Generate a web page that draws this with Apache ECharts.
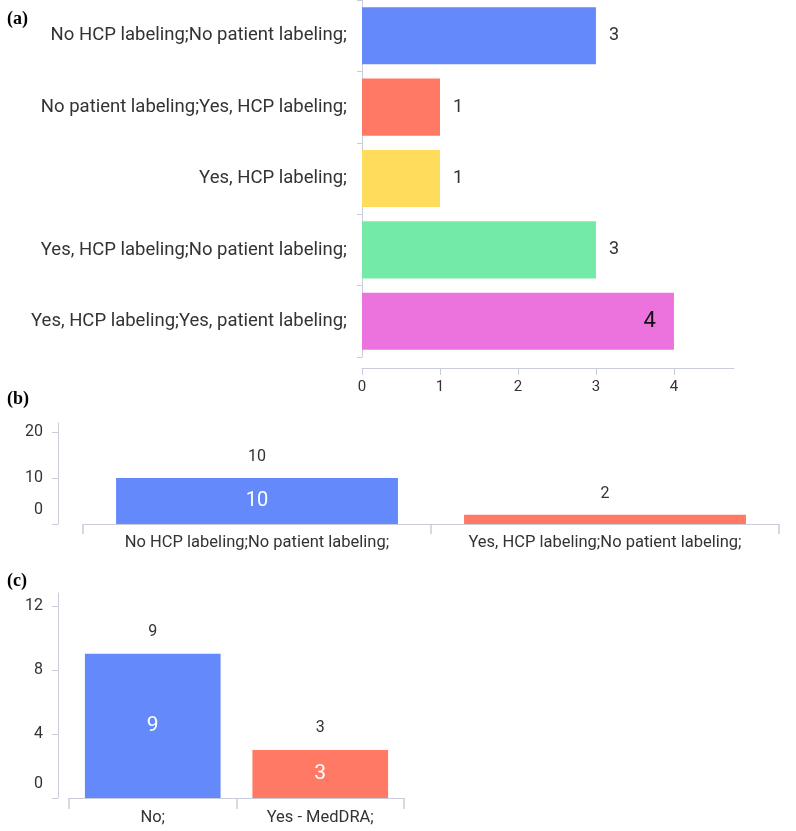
<!DOCTYPE html>
<html>
<head>
<meta charset="utf-8">
<script src="https://cdn.jsdelivr.net/npm/echarts@6/dist/echarts.min.js"></script>
<style>
  html, body { margin: 0; padding: 0; background: #fff; }
  #chart { width: 796px; height: 831px; }
</style>
</head>
<body>
<div id="chart"></div>
<script>
// panel (a): labelling of HCP / patient, horizontal bars
var catsA = [
    'No HCP labeling;No patient labeling;',
    'No patient labeling;Yes, HCP labeling;',
    'Yes, HCP labeling;',
    'Yes, HCP labeling;No patient labeling;',
    'Yes, HCP labeling;Yes, patient labeling;'
];
var valsA = [3, 1, 1, 3, 4];

// panel (b)
var catsB = ['No HCP labeling;No patient labeling;', 'Yes, HCP labeling;No patient labeling;'];
var valsB = [10, 2];

// panel (c)
var catsC = ['No;', 'Yes - MedDRA;'];
var valsC = [9, 3];

var palette = ['#6389fb', '#ff7965', '#ffdc5c', '#73eba7', '#ec72dd'];
var axisColor = '#c9cddb';
var textColor = '#333';
var font = 'Roboto';

var dom = document.getElementById('chart');
var myChart = echarts.init(dom);

// the zero tick label sits a bit above the axis in the original
function zeroUp(v) {
    return v === 0 ? '{z|0}' : String(v);
}
var zeroRich = { z: { padding: [0, 0, 28, 0], fontSize: 16, color: textColor, fontFamily: font } };

var maxA = Math.max.apply(null, valsA);

function panelTitle(text, top) {
    return {
        text: text, left: 2, top: top,
        textStyle: { fontFamily: 'Liberation Serif', fontWeight: 'bold', fontSize: 18, color: '#000' }
    };
}

// transparent copy of the bars, only there to carry the white inner label
function innerBars(vals) {
    return vals.map(function (v) {
        return { value: v, itemStyle: { color: 'transparent' } };
    });
}

var option = {
    animation: false,
    title: [panelTitle('(a)', 5), panelTitle('(b)', 385), panelTitle('(c)', 567)],
    grid: [
        { left: 362, right: 62, top: -7, height: 364 },
        { left: 83, right: 17, top: 423, height: 101 },
        { left: 69, right: 392, top: 593, height: 205 }
    ],
    xAxis: [
        {
            gridIndex: 0, type: 'value', min: 0, max: 4.77, interval: 1, offset: 11,
            splitLine: { show: false },
            axisLine: { show: true, lineStyle: { color: axisColor } },
            axisTick: { show: true, length: 7, lineStyle: { color: axisColor } },
            axisLabel: { showMaxLabel: false, margin: 12, fontSize: 15, color: textColor, fontFamily: font }
        },
        {
            gridIndex: 1, type: 'category', data: catsB,
            axisLine: { show: true, lineStyle: { color: axisColor } },
            axisTick: { show: true, length: 10, lineStyle: { color: axisColor, width: 1.5 } },
            axisLabel: { interval: 0, margin: 10, fontSize: 16.5, color: textColor, fontFamily: font }
        },
        {
            gridIndex: 2, type: 'category', data: catsC,
            axisLine: { show: true, lineStyle: { color: axisColor } },
            axisTick: { show: true, length: 11, lineStyle: { color: axisColor, width: 1.5 } },
            axisLabel: { interval: 0, margin: 11, fontSize: 16.5, color: textColor, fontFamily: font }
        }
    ],
    yAxis: [
        {
            gridIndex: 0, type: 'category', data: catsA, inverse: true,
            axisLine: { show: true, lineStyle: { color: axisColor } },
            axisTick: { show: true, length: 5, lineStyle: { color: axisColor } },
            axisLabel: { interval: 0, margin: 15, fontSize: 18.5, color: textColor, fontFamily: font }
        },
        {
            gridIndex: 1, type: 'value', min: 0, max: 22, interval: 10, offset: 25,
            splitLine: { show: false },
            axisLine: { show: true, lineStyle: { color: axisColor } },
            axisTick: { show: true, length: 6, lineStyle: { color: axisColor } },
            axisLabel: { showMaxLabel: false, margin: 15, fontSize: 16, color: textColor, fontFamily: font,
                         formatter: zeroUp, rich: zeroRich }
        },
        {
            gridIndex: 2, type: 'value', min: 0, max: 12.8, interval: 4, offset: 11,
            splitLine: { show: false },
            axisLine: { show: true, lineStyle: { color: axisColor } },
            axisTick: { show: true, length: 6, lineStyle: { color: axisColor } },
            axisLabel: { showMaxLabel: false, margin: 15, fontSize: 16, color: textColor, fontFamily: font,
                         formatter: zeroUp, rich: zeroRich }
        }
    ],
    series: [
        {
            type: 'bar', xAxisIndex: 0, yAxisIndex: 0, barCategoryGap: '20%',
            data: valsA.map(function (v, i) {
                var big = v === maxA;
                return {
                    value: v,
                    itemStyle: { color: palette[i] },
                    label: big
                        ? { position: 'insideRight', distance: 18, fontSize: 22, color: '#111' }
                        : { position: 'right', distance: 13, fontSize: 18, color: textColor }
                };
            }),
            label: { show: true, fontFamily: font }
        },
        {
            type: 'bar', xAxisIndex: 1, yAxisIndex: 1, barCategoryGap: '19%', barGap: '-100%',
            data: valsB.map(function (v, i) { return { value: v, itemStyle: { color: palette[i] } }; }),
            label: { show: true, position: 'top', distance: 13, fontSize: 16, color: textColor, fontFamily: font }
        },
        {
            type: 'bar', xAxisIndex: 1, yAxisIndex: 1, barCategoryGap: '19%', barGap: '-100%',
            data: innerBars(valsB),
            label: { show: true, position: 'inside', fontSize: 20, color: '#fff', fontFamily: font,
                     formatter: function (p) { return p.value / 22 < 0.15 ? '' : p.value; } }
        },
        {
            type: 'bar', xAxisIndex: 2, yAxisIndex: 2, barCategoryGap: '19%', barGap: '-100%',
            data: valsC.map(function (v, i) { return { value: v, itemStyle: { color: palette[i] } }; }),
            label: { show: true, position: 'top', distance: 14, fontSize: 16, color: textColor, fontFamily: font }
        },
        {
            type: 'bar', xAxisIndex: 2, yAxisIndex: 2, barCategoryGap: '19%', barGap: '-100%',
            data: innerBars(valsC),
            label: { show: true, position: 'inside', fontSize: 21, color: '#fff', fontFamily: font,
                     formatter: function (p) { return p.value / 12.8 < 0.15 ? '' : p.value; } }
        }
    ]
};

if (option && typeof option === 'object') {
    myChart.setOption(option, true);
}
</script>
</body>
</html>
